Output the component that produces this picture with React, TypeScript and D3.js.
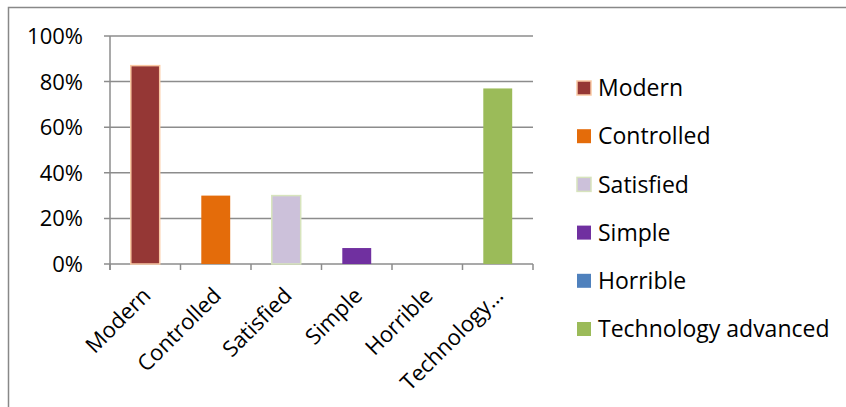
import { useEffect, useRef } from "react";
import * as d3 from "d3";

const categories = ["Modern", "Controlled", "Satisfied", "Simple", "Horrible", "Technology advanced"];
const axisLabels = ["Modern", "Controlled", "Satisfied", "Simple", "Horrible", "Technology…"];
const values = [0.87, 0.3, 0.3, 0.07, 0, 0.77];
const colors = ["#953735", "#E46C0A", "#CCC1DA", "#7030A0", "#4F81BD", "#9BBB59"];
const borders = ["#FAC9A4", null, "#D7E4BD", null, null, null];
const yTicks = [0, 0.2, 0.4, 0.6, 0.8, 1];

const App = () => {
  const svgRef = useRef(null);

  useEffect(() => {
    if (!svgRef.current) return;
    const svg = d3.select(svgRef.current);
    svg.selectAll("*").remove();

    const font = "'Open Sans', sans-serif";
    const x0 = 110, x1 = 533, y0 = 264, y1 = 36;

    // outer frame (only top/left visible)
    svg.append("rect")
      .attr("x", 8.5).attr("y", 7.5).attr("width", 900).attr("height", 500)
      .attr("fill", "white").attr("stroke", "#888").attr("stroke-width", 1.5);

    const x = d3.scaleBand().domain(categories).range([x0, x1]).paddingInner(0.59).paddingOuter(0.295);
    const y = d3.scaleLinear().domain([0, 1]).range([y0, y1]);

    // gridlines + y ticks
    const g = svg.append("g");
    yTicks.forEach((t) => {
      g.append("line")
        .attr("x1", x0 - 6).attr("x2", x1)
        .attr("y1", y(t)).attr("y2", y(t))
        .attr("stroke", "#8c8c8c").attr("stroke-width", 1.5);
      g.append("text")
        .attr("x", 83).attr("y", y(t)).attr("dy", "0.36em")
        .attr("text-anchor", "end")
        .attr("font-family", font).attr("font-size", 22)
        .text(d3.format(".0%")(t));
    });

    // bars
    svg.append("g").selectAll("rect")
      .data(values)
      .join("rect")
      .attr("x", (_, i) => x(categories[i]))
      .attr("y", (d) => y(d))
      .attr("width", x.bandwidth())
      .attr("height", (d) => y0 - y(d))
      .attr("fill", (_, i) => colors[i])
      .attr("stroke", (_, i) => borders[i] || "none")
      .attr("stroke-width", 1.5);

    // axes lines
    svg.append("line").attr("x1", x0).attr("x2", x0).attr("y1", y1).attr("y2", y0 + 6)
      .attr("stroke", "#8c8c8c").attr("stroke-width", 1.5);
    const step = (x1 - x0) / categories.length;
    d3.range(categories.length + 1).forEach((i) => {
      svg.append("line")
        .attr("x1", x0 + i * step).attr("x2", x0 + i * step)
        .attr("y1", y0).attr("y2", y0 + 6)
        .attr("stroke", "#8c8c8c").attr("stroke-width", 1.5);
    });

    // x labels
    categories.forEach((c, i) => {
      const cx = x(c) + x.bandwidth() / 2;
      svg.append("text")
        .attr("transform", `translate(${cx - 4},${y0 + 22}) rotate(-45)`)
        .attr("text-anchor", "end")
        .attr("dy", "0.7em")
        .attr("font-family", font).attr("font-size", 22)
        .text(axisLabels[i]);
    });

    // legend
    const lg = svg.append("g");
    categories.forEach((c, i) => {
      const cy = 88 + i * 48.2;
      lg.append("rect")
        .attr("x", 577).attr("y", cy - 7).attr("width", 14).attr("height", 14)
        .attr("fill", colors[i])
        .attr("stroke", borders[i] || "none").attr("stroke-width", 1.5);
      lg.append("text")
        .attr("x", 598).attr("y", cy).attr("dy", "0.36em")
        .attr("font-family", font).attr("font-size", 23)
        .text(c);
    });
  }, []);

  return (
    <svg
      ref={svgRef}
      width={846}
      height={407}
      style={{ position: "absolute", left: 0, top: 0, background: "white" }}
    />
  );
};

export default App;
